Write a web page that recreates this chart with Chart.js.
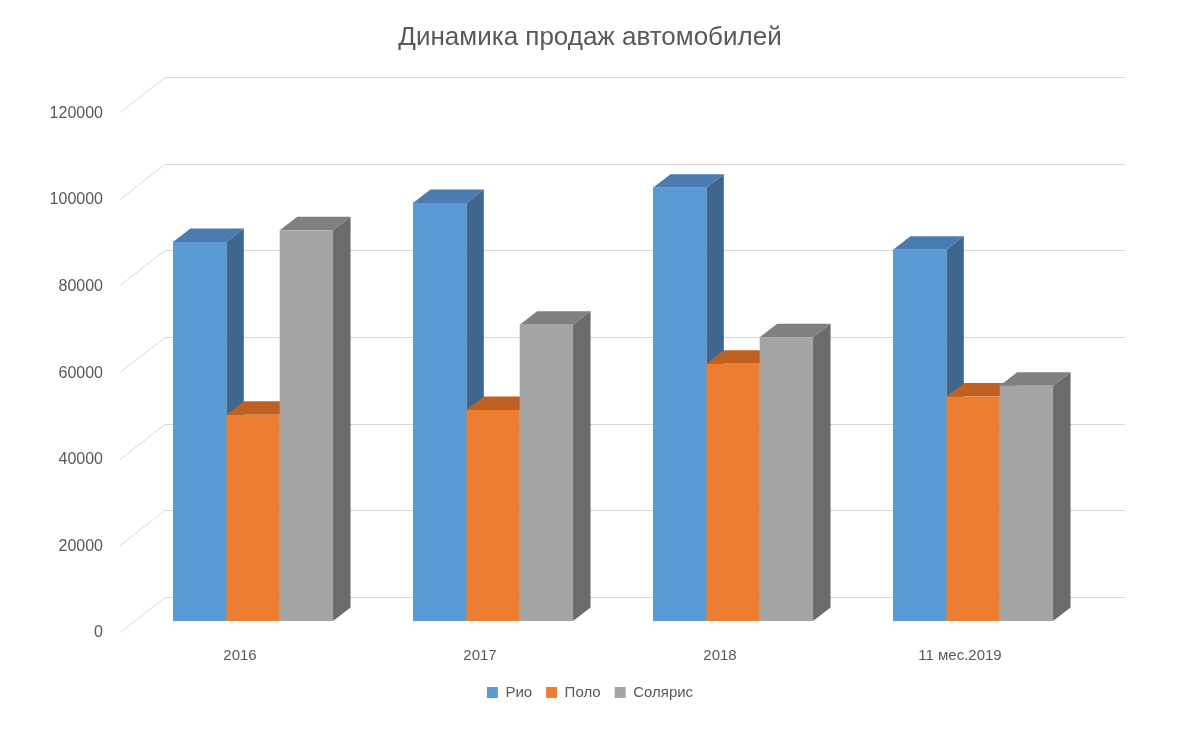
<!DOCTYPE html>
<html>
<head>
<meta charset="utf-8">
<script src="https://cdn.jsdelivr.net/npm/chart.js@4.4.1/dist/chart.umd.min.js"></script>
<style>
  html, body { margin: 0; padding: 0; background: #fff; }
  #wrap { width: 1200px; height: 731px; position: relative; }
</style>
</head>
<body>
<div id="wrap"><canvas id="salesChart"></canvas></div>
<script>
const categories = ["2016", "2017", "2018", "11 мес.2019"];
const rio = [87500, 96500, 100000, 85700];
const polo = [47600, 48700, 59400, 51800];
const solaris = [90200, 68400, 65500, 54300];
const seriesNames = ["Рио", "Поло", "Солярис"];

// front / top / side colours of the 3d boxes
const faceColors = [
  { front: "#5B9BD5", top: "#4A7CB0", side: "#3D6690" },
  { front: "#ED7D31", top: "#BF6020", side: "#A85520" },
  { front: "#A5A5A5", top: "#808080", side: "#6B6B6B" }
];

const TEXT = "#595959";
const FONT = "'Liberation Sans', Arial, sans-serif";

// depth offsets (px) for the walls and for the boxes
const WALL_FRONT = { dx: -13, dy: 11 };
const WALL_BACK = { dx: 32, dy: -24 };
const BOX = { dx: 17.5, dy: -13.5 };

function poly(ctx, pts, color) {
  ctx.beginPath();
  ctx.moveTo(pts[0][0], pts[0][1]);
  for (let i = 1; i < pts.length; i++) ctx.lineTo(pts[i][0], pts[i][1]);
  ctx.closePath();
  ctx.fillStyle = color;
  ctx.fill();
}

const fake3d = {
  id: "fake3d",
  beforeDatasetsDraw(chart) {
    const { ctx, chartArea, scales } = chart;
    const y = scales.y;
    ctx.save();

    // back wall gridlines + left wall diagonals
    ctx.strokeStyle = "#D9D9D9";
    ctx.lineWidth = 1;
    y.ticks.forEach(t => {
      const py = Math.round(y.getPixelForValue(t.value)) + 0.5;
      ctx.beginPath();
      ctx.moveTo(chartArea.left + WALL_FRONT.dx, py + WALL_FRONT.dy);
      ctx.lineTo(chartArea.left + WALL_BACK.dx, py + WALL_BACK.dy);
      ctx.lineTo(chartArea.right + WALL_BACK.dx, py + WALL_BACK.dy);
      ctx.stroke();
    });

    // side and top faces, far (left) to near (right)
    const metas = chart.data.datasets.map((d, i) => chart.getDatasetMeta(i));
    for (let c = 0; c < categories.length; c++) {
      metas.forEach((meta, d) => {
        const bar = meta.data[c];
        const l = bar.x - bar.width / 2;
        const r = bar.x + bar.width / 2;
        const top = bar.y;
        const base = bar.base;
        poly(ctx, [[r, top], [r + BOX.dx, top + BOX.dy], [r + BOX.dx, base + BOX.dy], [r, base]], faceColors[d].side);
        poly(ctx, [[l, top], [l + BOX.dx, top + BOX.dy], [r + BOX.dx, top + BOX.dy], [r, top]], faceColors[d].top);
      });
    }
    ctx.restore();
  }
};

const ctx = document.getElementById("salesChart").getContext("2d");
new Chart(ctx, {
  type: "bar",
  data: {
    labels: categories,
    datasets: [rio, polo, solaris].map((vals, i) => ({
      label: seriesNames[i],
      data: vals,
      backgroundColor: faceColors[i].front,
      borderWidth: 0,
      categoryPercentage: 0.667,
      barPercentage: 1
    }))
  },
  options: {
    responsive: true,
    maintainAspectRatio: false,
    animation: false,
    layout: { padding: { left: 0, right: 20, top: 0, bottom: 21 } },
    plugins: {
      title: {
        display: true,
        text: "Динамика продаж автомобилей",
        color: TEXT,
        font: { family: FONT, size: 26, weight: "normal" },
        padding: { top: 22, bottom: 48 }
      },
      legend: {
        position: "bottom",
        labels: {
          color: TEXT,
          font: { family: FONT, size: 15 },
          boxWidth: 11,
          boxHeight: 11,
          padding: 14
        }
      },
      tooltip: { enabled: false }
    },
    scales: {
      x: {
        grid: { display: false, drawTicks: false },
        border: { display: false },
        ticks: { color: TEXT, font: { family: FONT, size: 15 }, padding: 26, labelOffset: -13 },
        afterFit(scale) { scale.height = 50; }
      },
      y: {
        min: 0,
        max: 120000,
        grid: { display: false, drawTicks: false },
        border: { display: false },
        ticks: {
          stepSize: 20000,
          color: TEXT,
          font: { family: FONT, size: 16 },
          padding: 30,
          labelOffset: 12,
          callback: v => String(v)
        },
        afterFit(scale) { scale.width = 133; }
      },
      // empty right axis, only keeps room for the back wall depth
      yRight: {
        position: "right",
        grid: { display: false, drawTicks: false },
        border: { display: false },
        ticks: { display: false },
        afterFit(scale) { scale.width = 87; }
      }
    }
  },
  plugins: [fake3d]
});
</script>
</body>
</html>
